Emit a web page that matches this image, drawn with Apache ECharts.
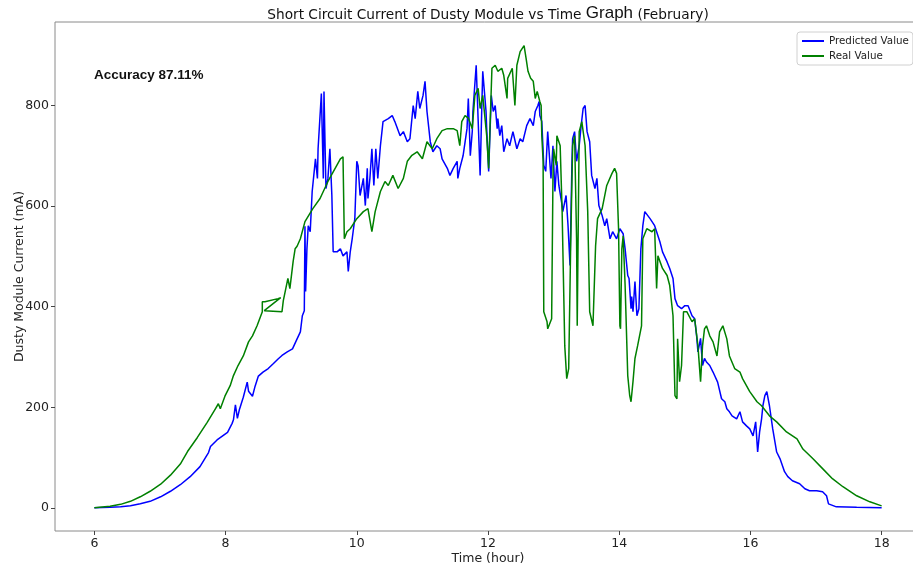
<!DOCTYPE html>
<html>
<head>
<meta charset="utf-8">
<script src="https://cdn.jsdelivr.net/npm/echarts@6/dist/echarts.min.js"></script>
<style>
  html, body { margin: 0; padding: 0; background: #fff; }
  #chart { width: 913px; height: 570px; }
</style>
</head>
<body>
<div id="chart"></div>
<script>
// Time (hour) ticks and current (mA) ticks
const xTicks = [6, 8, 10, 12, 14, 16, 18];
const yTicks = [0, 200, 400, 600, 800];

// Predicted short circuit current, [hour, mA]
const predicted = [
  [6.00,0],[6.24,1],[6.40,2],[6.55,4],[6.70,8],[6.85,13],[7.01,22],[7.16,33],[7.31,46],[7.46,62],
  [7.61,82],[7.74,110],[7.77,122],[7.87,135],[8.03,150],[8.10,168],[8.12,175],[8.15,205],[8.18,178],[8.21,195],
  [8.27,220],[8.33,250],[8.35,232],[8.41,222],[8.45,242],[8.50,262],[8.57,270],[8.65,277],[8.73,287],[8.80,296],
  [8.86,303],[8.94,310],[9.02,316],[9.09,336],[9.14,350],[9.17,382],[9.20,392],[9.21,560],[9.22,430],[9.24,515],
  [9.26,561],[9.29,549],[9.32,629],[9.37,694],[9.40,655],[9.41,714],[9.46,824],[9.49,655],[9.50,828],[9.53,635],
  [9.56,655],[9.59,714],[9.62,621],[9.64,509],[9.70,509],[9.75,515],[9.79,501],[9.85,509],[9.87,470],[9.90,509],
  [9.93,535],[9.97,575],[10.00,689],[10.02,680],[10.05,621],[10.10,655],[10.13,601],[10.16,675],[10.17,615],[10.20,655],
  [10.23,714],[10.26,641],[10.29,714],[10.32,655],[10.36,720],[10.40,768],[10.48,774],[10.54,780],[10.58,768],[10.66,740],
  [10.71,748],[10.77,728],[10.81,734],[10.86,800],[10.89,774],[10.93,828],[10.96,794],[11.01,820],[11.04,848],[11.07,788],
  [11.12,728],[11.16,708],[11.22,720],[11.27,714],[11.30,694],[11.38,675],[11.42,661],[11.47,675],[11.53,689],[11.54,655],
  [11.57,675],[11.62,700],[11.68,754],[11.70,814],[11.73,700],[11.76,748],[11.77,788],[11.82,880],[11.85,880],[11.88,661],
  [11.91,820],[11.92,868],[11.97,788],[11.98,754],[12.01,669],[12.05,820],[12.08,788],[12.11,800],[12.14,754],[12.15,774],
  [12.18,740],[12.21,760],[12.24,708],[12.29,734],[12.33,720],[12.38,748],[12.44,714],[12.49,734],[12.53,728],[12.59,760],
  [12.64,774],[12.69,760],[12.72,788],[12.76,800],[12.78,808],[12.79,780],[12.82,768],[12.85,681],[12.88,669],[12.91,748],
  [12.96,655],[12.99,720],[13.02,629],[13.05,689],[13.08,641],[13.13,601],[13.14,589],[13.19,621],[13.22,561],[13.25,482],
  [13.28,689],[13.29,734],[13.32,748],[13.35,689],[13.39,720],[13.42,760],[13.45,794],[13.48,800],[13.51,748],[13.55,728],
  [13.58,661],[13.63,635],[13.66,655],[13.69,601],[13.74,581],[13.78,561],[13.81,575],[13.86,535],[13.90,549],[13.96,535],
  [14.01,555],[14.06,545],[14.09,515],[14.13,462],[14.15,456],[14.18,396],[14.19,420],[14.21,390],[14.24,450],[14.27,382],
  [14.30,396],[14.33,515],[14.36,561],[14.39,589],[14.47,575],[14.54,561],[14.57,549],[14.62,529],[14.66,509],[14.73,489],
  [14.77,476],[14.82,456],[14.85,416],[14.89,402],[14.95,396],[15.00,402],[15.05,402],[15.11,382],[15.15,376],[15.18,342],
  [15.20,310],[15.24,337],[15.27,283],[15.30,297],[15.33,290],[15.38,283],[15.43,270],[15.46,270],[15.50,250],[15.56,217],
  [15.61,211],[15.64,197],[15.68,191],[15.72,183],[15.79,177],[15.84,191],[15.88,171],[15.94,163],[15.99,157],[16.04,143],
  [16.08,171],[16.11,111],[16.14,151],[16.17,177],[16.19,203],[16.22,223],[16.25,231],[16.29,203],[16.34,157],[16.40,111],
  [16.45,98],[16.52,72],[16.57,62],[16.64,54],[16.75,48],[16.83,38],[16.90,34],[17.01,34],[17.10,32],[17.16,24],
  [17.19,8],[17.31,2],[17.62,1],[18.00,0]
];

// Measured short circuit current, [hour, mA]
const real = [
  [6.00,0],[6.24,3],[6.40,7],[6.55,13],[6.70,22],[6.85,33],[7.01,47],[7.16,65],[7.31,87],[7.42,112],
  [7.57,140],[7.72,170],[7.84,196],[7.89,207],[7.92,197],[7.99,222],[8.07,243],[8.12,263],[8.19,283],[8.27,302],
  [8.35,330],[8.41,342],[8.48,362],[8.56,390],[8.56,410],[8.60,410],[8.80,416],[8.84,418],[8.59,392],[8.86,390],
  [8.88,412],[8.91,415],[8.94,450],[8.95,456],[8.98,436],[9.03,490],[9.06,515],[9.09,520],[9.14,535],[9.21,569],
  [9.33,595],[9.44,615],[9.56,649],[9.67,675],[9.75,694],[9.79,698],[9.81,535],[9.85,549],[9.90,555],[10.00,575],
  [10.10,589],[10.17,595],[10.23,549],[10.28,589],[10.36,629],[10.43,649],[10.48,641],[10.55,661],[10.63,635],[10.71,655],
  [10.77,689],[10.84,701],[10.92,708],[11.00,694],[11.07,728],[11.15,714],[11.22,734],[11.30,750],[11.38,754],[11.47,754],
  [11.53,750],[11.57,720],[11.60,768],[11.65,780],[11.70,775],[11.76,754],[11.80,820],[11.85,834],[11.88,794],[11.92,820],
  [11.98,740],[12.01,675],[12.06,874],[12.11,880],[12.15,868],[12.21,874],[12.24,860],[12.29,814],[12.30,854],[12.37,874],
  [12.41,800],[12.44,880],[12.49,907],[12.55,919],[12.58,894],[12.61,868],[12.65,854],[12.69,848],[12.72,814],[12.75,828],
  [12.79,808],[12.81,800],[12.82,740],[12.84,689],[12.85,390],[12.90,370],[12.91,356],[12.97,376],[12.99,655],[13.00,714],
  [13.04,681],[13.05,740],[13.10,720],[13.13,589],[13.14,521],[13.17,322],[13.20,257],[13.23,277],[13.26,521],[13.29,720],
  [13.32,740],[13.35,535],[13.36,362],[13.39,362],[13.39,748],[13.43,768],[13.48,720],[13.52,589],[13.55,390],[13.60,362],
  [13.64,521],[13.67,575],[13.74,595],[13.81,641],[13.89,665],[13.93,675],[13.96,665],[13.99,555],[14.01,362],[14.02,356],
  [14.04,515],[14.06,541],[14.09,442],[14.13,263],[14.16,223],[14.18,211],[14.21,251],[14.24,297],[14.28,322],[14.34,362],
  [14.36,535],[14.42,555],[14.50,549],[14.54,555],[14.57,436],[14.59,501],[14.66,476],[14.73,462],[14.77,442],[14.82,382],
  [14.85,223],[14.88,217],[14.89,336],[14.92,251],[14.95,283],[14.98,390],[15.03,390],[15.11,370],[15.15,376],[15.20,322],
  [15.24,251],[15.27,322],[15.30,356],[15.33,362],[15.38,342],[15.43,330],[15.49,302],[15.53,350],[15.58,362],[15.64,336],
  [15.68,302],[15.76,277],[15.84,270],[15.88,257],[15.99,231],[16.10,211],[16.17,203],[16.29,183],[16.40,171],[16.55,151],
  [16.71,137],[16.80,117],[16.95,98],[17.10,78],[17.25,58],[17.41,42],[17.62,24],[17.82,12],[18.00,4]
];

const titleMain = 'Short Circuit Current of Dusty Module vs Time ';
const titleWord = 'Graph';
const titleTail = ' (February)';
const accuracyText = 'Accuracy 87.11%';

const chart = echarts.init(document.getElementById('chart'), null, { renderer: 'canvas' });

const tickFont = { fontFamily: 'DejaVu Sans', fontSize: 12.5, color: '#222' };

chart.setOption({
  animation: false,
  backgroundColor: '#fff',
  grid: {
    left: 55, right: -8, top: 22, bottom: 39,
    outerBoundsMode: 'none', containLabel: false,
    show: true, borderColor: '#8a8a8a', borderWidth: 1, backgroundColor: 'transparent'
  },
  xAxis: {
    type: 'value', min: 5.4, max: 18.6,
    name: 'Time (hour)', nameLocation: 'middle', nameGap: 21, nameMoveOverlap: false,
    nameTextStyle: { fontFamily: 'DejaVu Sans', fontSize: 12.5, color: '#222' },
    axisLine: { show: false, onZero: false },
    axisTick: { show: true, inside: false, customValues: xTicks, length: 4, lineStyle: { color: '#444' } },
    axisLabel: { customValues: xTicks, margin: 6, ...tickFont },
    splitLine: { show: false }
  },
  yAxis: {
    type: 'value', min: -46, max: 966,
    name: 'Dusty Module Current (mA)', nameLocation: 'middle', nameGap: 29, nameMoveOverlap: false,
    nameTextStyle: { fontFamily: 'DejaVu Sans', fontSize: 12.5, color: '#222' },
    axisLine: { show: false, onZero: false },
    axisTick: { show: true, inside: false, customValues: yTicks, length: 4, lineStyle: { color: '#444' } },
    axisLabel: { customValues: yTicks, margin: 6, ...tickFont },
    splitLine: { show: false }
  },
  legend: {
    orient: 'vertical', left: 797, top: 32,
    padding: [4, 4, 4, 5], itemGap: 5, itemWidth: 22, itemHeight: 2,
    backgroundColor: '#fff', borderColor: '#d0d0d0', borderWidth: 1, borderRadius: 3,
    textStyle: { fontFamily: 'DejaVu Sans', fontSize: 10.3, color: '#222' },
    data: [
      { name: 'Predicted Value', icon: 'rect' },
      { name: 'Real Value', icon: 'rect' }
    ]
  },
  graphic: [
    {
      type: 'text', x: 488, y: 15,
      style: {
        text: '{a|' + titleMain + '}{b|' + titleWord + '}{a|' + titleTail + '}',
        align: 'center', verticalAlign: 'middle',
        rich: {
          a: { fontFamily: 'DejaVu Sans', fontSize: 13.7, fill: '#111' },
          b: { fontFamily: 'Liberation Sans Narrow, Liberation Sans', fontSize: 17, fill: '#111', padding: [0, 0, 3, 0] }
        }
      }
    },
    {
      type: 'text', x: 94, y: 75,
      style: {
        text: accuracyText, verticalAlign: 'middle',
        fontFamily: 'Liberation Sans', fontWeight: 'bold', fontSize: 13.5, fill: '#111'
      }
    }
  ],
  series: [
    {
      name: 'Predicted Value', type: 'line', data: predicted,
      showSymbol: false, symbol: 'none',
      lineStyle: { color: '#0000ff', width: 1.5 }, itemStyle: { color: '#0000ff' }, z: 2
    },
    {
      name: 'Real Value', type: 'line', data: real,
      showSymbol: false, symbol: 'none',
      lineStyle: { color: '#008000', width: 1.5 }, itemStyle: { color: '#008000' }, z: 3
    }
  ]
});
</script>
</body>
</html>
